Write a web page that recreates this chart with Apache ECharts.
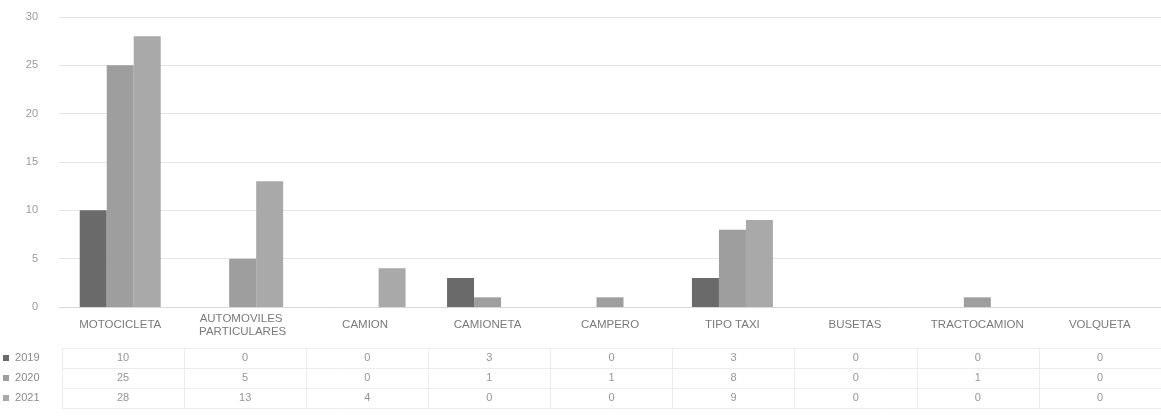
<!DOCTYPE html>
<html>
<head>
<meta charset="utf-8">
<script src="https://cdn.jsdelivr.net/npm/echarts@6/dist/echarts.min.js"></script>
<style>
html,body{margin:0;padding:0;background:#fff;}
#c{width:1161px;height:419px;}
</style>
</head>
<body>
<div id="c"></div>
<script>
const categories = ['MOTOCICLETA','AUTOMOVILES PARTICULARES','CAMION','CAMIONETA','CAMPERO','TIPO TAXI','BUSETAS','TRACTOCAMION','VOLQUETA'];
const seriesNames = ['2019','2020','2021'];
const v2019 = [10,0,0,3,0,3,0,0,0];
const v2020 = [25,5,0,1,1,8,0,1,0];
const v2021 = [28,13,4,0,0,9,0,0,0];
const yTicks = [0,5,10,15,20,25,30];

const colors = ['#6a6a6a','#9e9e9e','#a9a9a9'];
const values = [v2019, v2020, v2021];
const font = 'Liberation Sans';

const tableData = [];
values.forEach((arr, r) => arr.forEach((v, c) => tableData.push([c, r, v])));

const chart = echarts.init(document.getElementById('c'));
chart.setOption({
  animation: false,
  backgroundColor: '#fff',
  textStyle: {fontFamily: font},
  grid: [
    {left: 59, right: -16, top: 17, bottom: 112},
    {left: 59, right: -16, top: 348, height: 60}
  ],
  xAxis: [
    {
      type: 'category', gridIndex: 0, data: categories,
      axisLine: {show: true, lineStyle: {color: '#d8d8d8'}},
      axisTick: {show: false},
      axisLabel: {
        color: '#7a7a7a', fontSize: 11.5, fontFamily: font,
        margin: 18, verticalAlign: 'middle', width: 110, overflow: 'break',
        interval: 0, lineHeight: 13
      },
      splitLine: {show: false}
    },
    {
      type: 'category', gridIndex: 1, data: categories,
      axisLine: {show: false}, axisTick: {show: false},
      axisLabel: {show: false},
      splitLine: {show: true, interval: 0, lineStyle: {color: '#ececec'}}
    }
  ],
  yAxis: [
    {
      type: 'value', gridIndex: 0, min: 0, max: 30, interval: 5,
      axisLine: {show: false}, axisTick: {show: false},
      axisLabel: {color: '#9a9a9a', fontSize: 11, margin: 21,
        customValues: yTicks},
      splitLine: {show: true, lineStyle: {color: '#e6e6e6'}}
    },
    {
      type: 'category', gridIndex: 1, data: seriesNames, inverse: true,
      axisLine: {show: false}, axisTick: {show: false},
      axisLabel: {
        align: 'left', margin: 59, color: '#8a8a8a', fontSize: 11,
        formatter: (v, i) => '{s' + i + '|}  ' + v,
        rich: {
          s0: {width: 6, height: 6, backgroundColor: colors[0]},
          s1: {width: 6, height: 6, backgroundColor: colors[1]},
          s2: {width: 6, height: 6, backgroundColor: colors[2]}
        }
      },
      splitLine: {show: true, interval: 0, lineStyle: {color: '#ececec'}}
    }
  ],
  series: seriesNames.map((n, i) => ({
    name: n, type: 'bar', xAxisIndex: 0, yAxisIndex: 0,
    data: values[i], barWidth: 27, barGap: '0%',
    itemStyle: {color: colors[i]}
  })).concat([{
    name: 'tabla', type: 'scatter', xAxisIndex: 1, yAxisIndex: 1,
    data: tableData, symbolSize: 0,
    label: {show: true, position: 'inside', color: '#7a7a7a', fontSize: 11,
      formatter: p => String(p.value[2])}
  }])
});
</script>
</body>
</html>
